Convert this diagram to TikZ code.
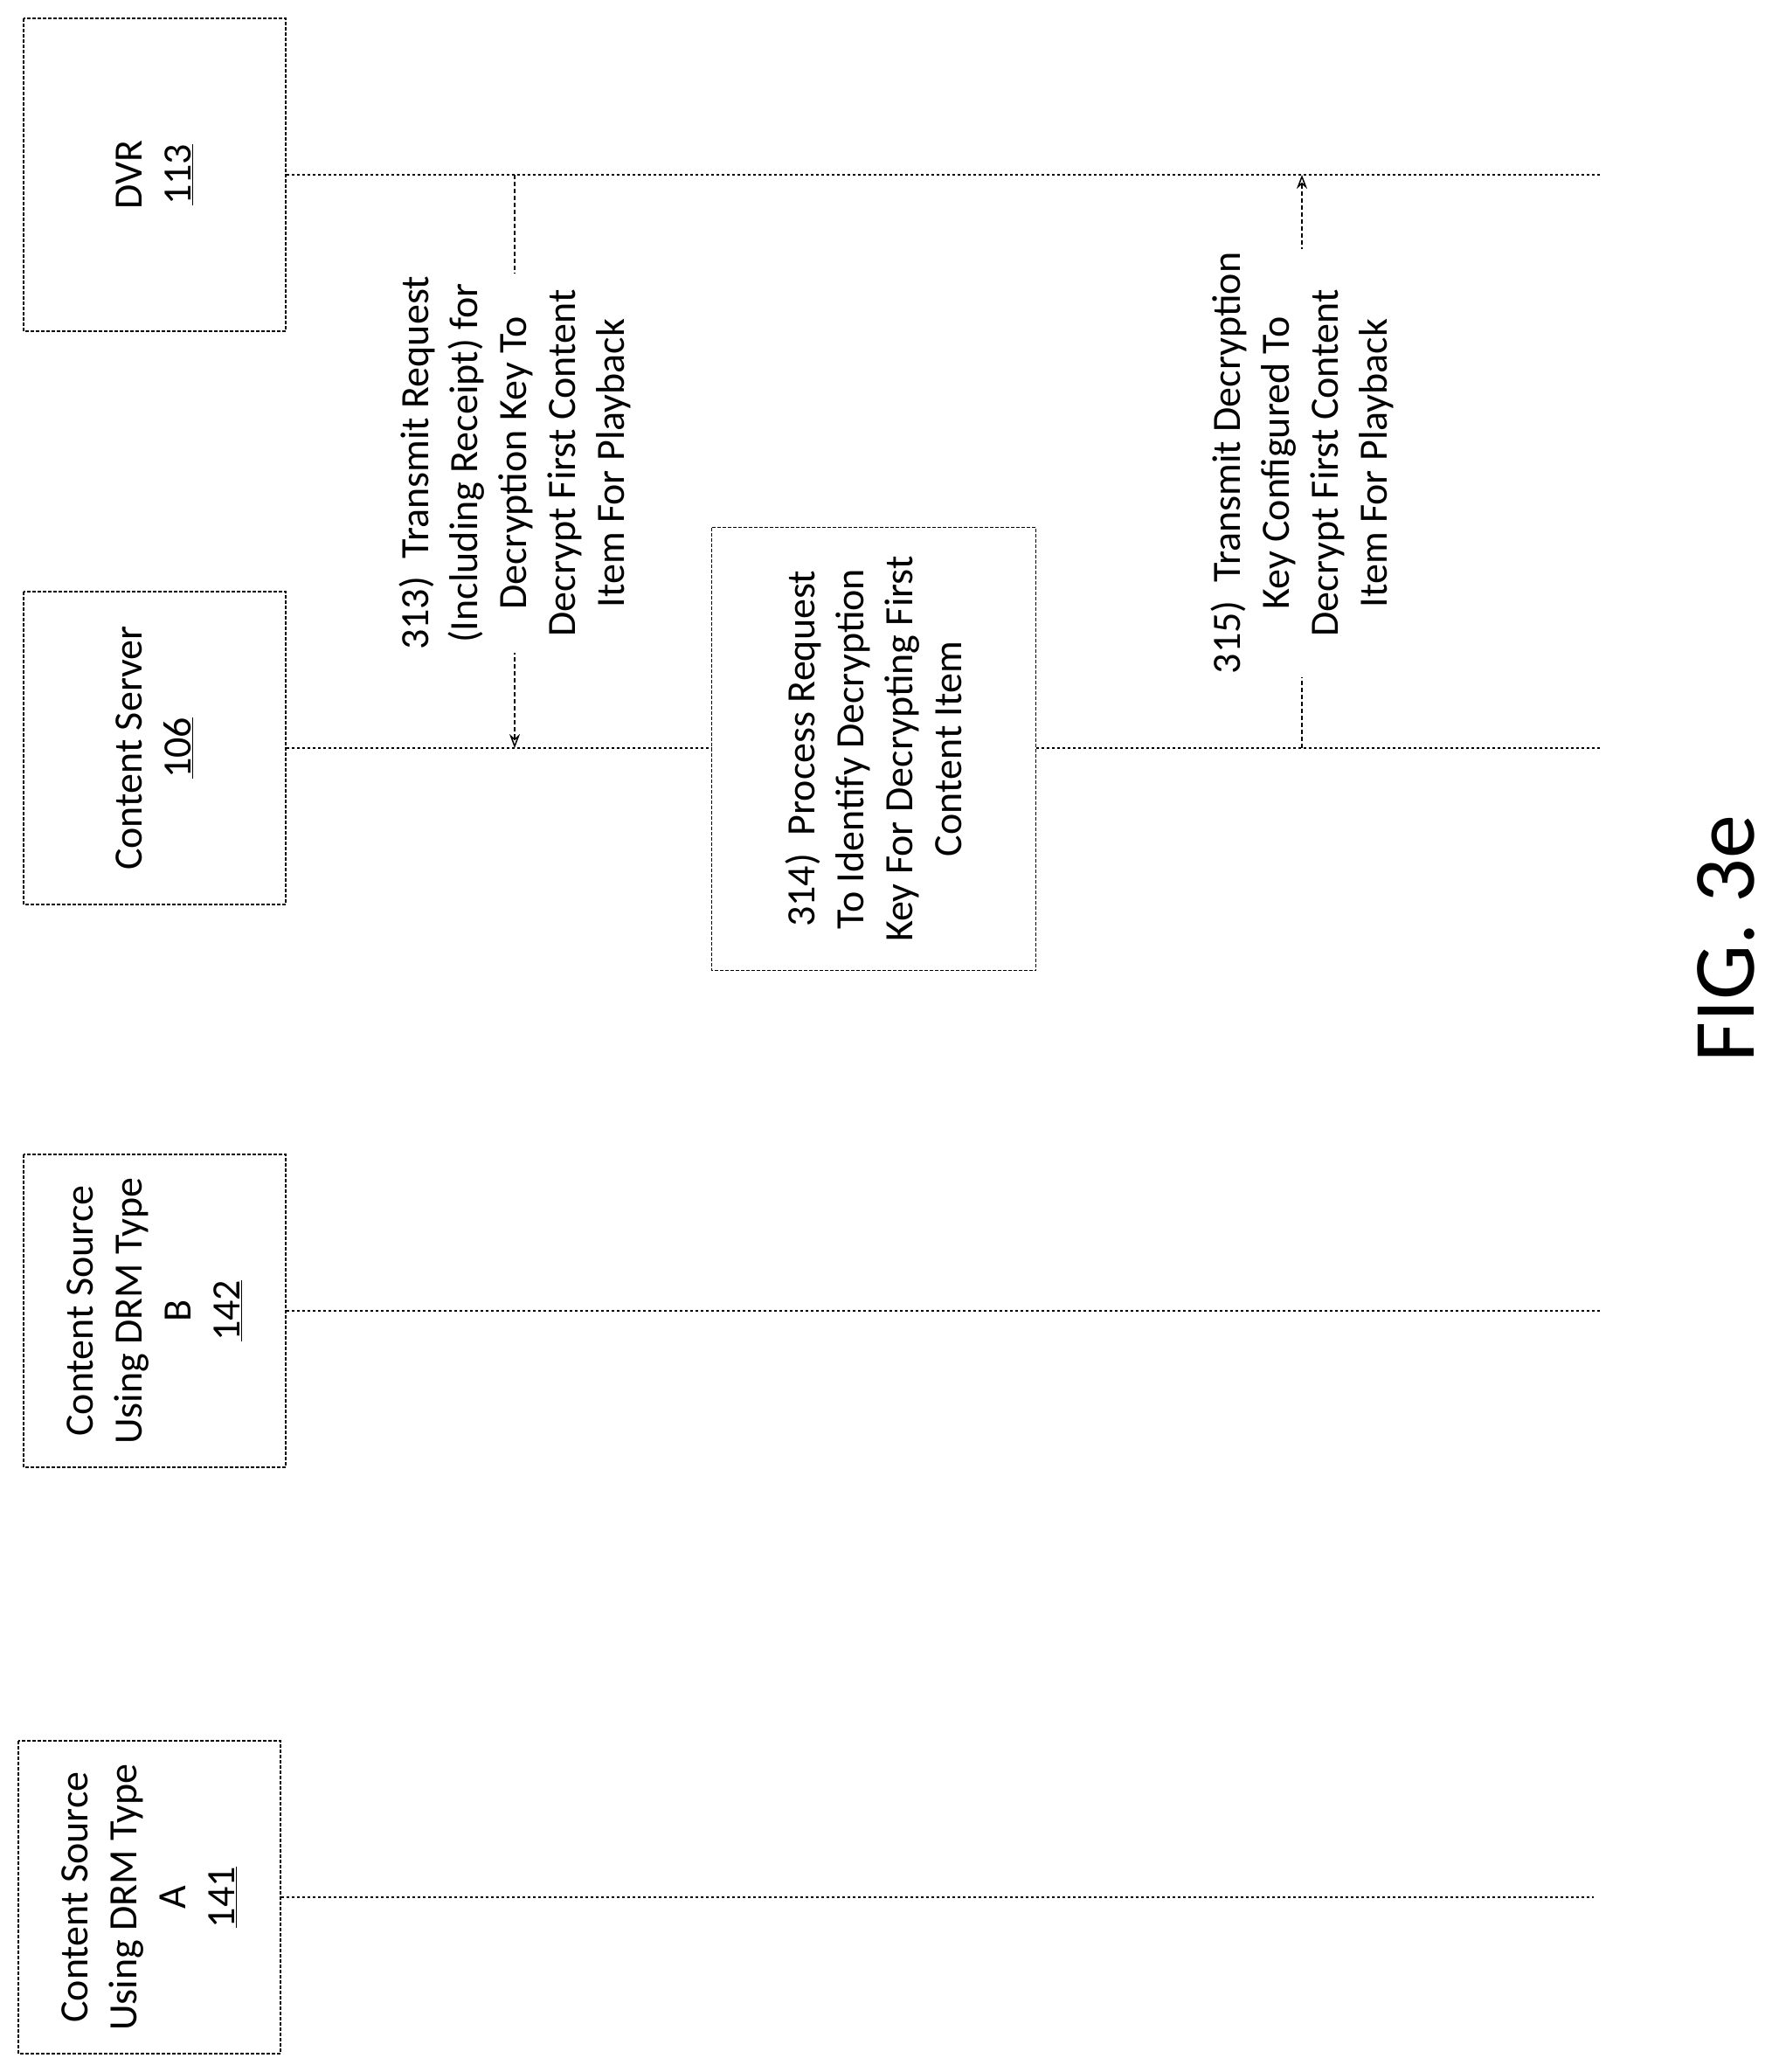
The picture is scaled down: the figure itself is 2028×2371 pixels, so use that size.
\documentclass[tikz,border=0pt]{standalone}
\usepackage{fontspec}
\setmainfont{Carlito}
\usetikzlibrary{arrows.meta}
\begin{document}
\begin{tikzpicture}[x=1pt,y=-1pt,
  ent/.style={draw,dashed,dash pattern=on 4pt off 2pt,line width=1.5pt,minimum width=358pt,minimum height=300pt,rotate=90,align=center,font=\fontsize{46}{56}\selectfont},
  life/.style={line width=1.5pt,dash pattern=on 3pt off 3pt},
  msg/.style={line width=1.5pt,dash pattern=on 5pt off 3pt,-{Stealth[length=16pt,width=12pt,open]}},
  lbl/.style={fill=white,rotate=90,align=center,font=\fontsize{46}{56}\selectfont}]
\useasboundingbox (0,0) rectangle (2028,2371);
\node[ent] (dvr) at (177,200) {DVR\\\underline{113}};
\node[ent] (cs) at (177,856) {Content Server\\\underline{106}};
\node[ent] (b) at (177,1500) {Content Source\\Using DRM Type\\B\\\underline{142}};
\node[ent] (a) at (171,2171) {Content Source\\Using DRM Type\\A\\\underline{141}};
\coordinate (dvrE) at (1831,200);
\coordinate (csE) at (1831,856);
\coordinate (bE) at (1831,1500);
\coordinate (aE) at (1824,2171);
\draw[life] (dvr.south) -- (dvrE);
\draw[life] (cs.south) -- (csE);
\draw[life] (b.south) -- (bE);
\draw[life] (a.south) -- (aE);
\node[draw,dashed,dash pattern=on 4pt off 2pt,line width=1.5pt,fill=white,minimum width=507pt,minimum height=371pt,rotate=90,align=center,font=\fontsize{46}{56}\selectfont] (p314) at (1000,857)
 {314)\ \ Process Request\\To Identify Decryption\\Key For Decrypting First\\Content Item};
\coordinate (m1s) at (589,200);
\coordinate (m1e) at (589,856);
\draw[msg] (m1s) -- (m1e);
\node[lbl] (t313) at (589,530) {313)\ \ Transmit Request\\(Including Receipt) for\\Decryption Key To\\Decrypt First Content\\Item For Playback};
\coordinate (m2s) at (1490,856);
\coordinate (m2e) at (1490,200);
\draw[msg] (m2s) -- (m2e);
\node[lbl] (t315) at (1490,530) {315)\ \ Transmit Decryption\\Key Configured To\\Decrypt First Content\\Item For Playback};
\node[rotate=90,font=\fontsize{100}{110}\selectfont] (fig) at (1975,1074) {FIG. 3e};
\end{tikzpicture}
\end{document}
